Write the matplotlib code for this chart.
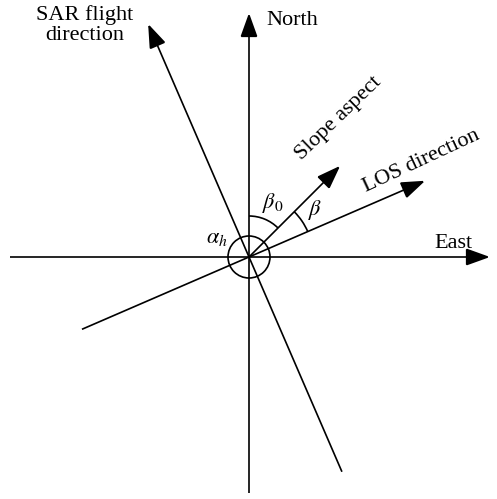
import numpy as np
import matplotlib
matplotlib.use("Agg")
import matplotlib.pyplot as plt
from matplotlib.patches import FancyArrowPatch, Arc, Circle

plt.rcParams["font.family"] = ["Liberation Serif", "DejaVu Serif"]
plt.rcParams["mathtext.fontset"] = "stix"

# Azimuths in degrees, clockwise from north
north_az = 0.0
east_az = 90.0
flight_az = -23.4
slope_aspect_az = 45.0
los_az = 66.6

# Line extents from the origin (forward, backward)
north_len = (244, 236)
east_len = (241, 239)
flight_len = (254, 234)
slope_len = (129, 0)
los_len = (192, 182)

# Angle marker radii
alpha_r = 21
beta0_r = 41
beta_r = 64

W, H = 497, 499
origin = np.array([249.0, 242.0])

fig = plt.figure(figsize=(W / 100, H / 100), dpi=100)
ax = fig.add_axes([0, 0, 1, 1])
ax.set_xlim(0, W)
ax.set_ylim(0, H)
ax.set_aspect("equal")
ax.axis("off")

lw = 1.2


def unit(az):
    a = np.radians(az)
    return np.array([np.sin(a), np.cos(a)])


def ray(az, lengths, arrow=True):
    fwd, back = lengths
    u = unit(az)
    start = origin - back * u
    end = origin + fwd * u
    style = "-|>,head_length=0.75,head_width=0.27" if arrow else "-"
    p = FancyArrowPatch(start, end, arrowstyle=style, mutation_scale=20,
                        lw=lw, color="black", shrinkA=0, shrinkB=0,
                        joinstyle="miter", capstyle="butt")
    ax.add_patch(p)


ray(north_az, north_len)
ray(east_az, east_len)
ray(flight_az, flight_len)
ray(slope_aspect_az, slope_len)
ray(los_az, los_len)

# Angle markers
ax.add_patch(Circle(origin, alpha_r, fill=False, lw=lw, color="black"))
ax.add_patch(Arc(origin, 2 * beta0_r, 2 * beta0_r, theta1=90 - slope_aspect_az,
                 theta2=90 - north_az, lw=lw, color="black"))
ax.add_patch(Arc(origin, 2 * beta_r, 2 * beta_r, theta1=90 - los_az,
                 theta2=90 - slope_aspect_az, lw=lw, color="black"))

fs = 16
ax.text(266, 479, "North", fontsize=fs, ha="left", va="center")
ax.text(453, 256, "East", fontsize=fs, ha="center", va="center")
ax.text(85, 474, "SAR flight\ndirection", fontsize=fs, ha="center",
        va="center", linespacing=1.1)
ax.text(339, 381, "Slope aspect", fontsize=fs, ha="center", va="center",
        rotation=44, rotation_mode="anchor")
ax.text(421, 338, "LOS direction", fontsize=fs, ha="center", va="center",
        rotation=25, rotation_mode="anchor")

ax.text(273, 296, r"$\beta_0$", fontsize=fs, ha="center", va="center")
ax.text(315, 289, r"$\beta$", fontsize=fs, ha="center", va="center")
ax.text(217, 261, r"$\alpha_h$", fontsize=fs, ha="center", va="center")

fig.savefig("out.png", dpi=100, facecolor="white")
